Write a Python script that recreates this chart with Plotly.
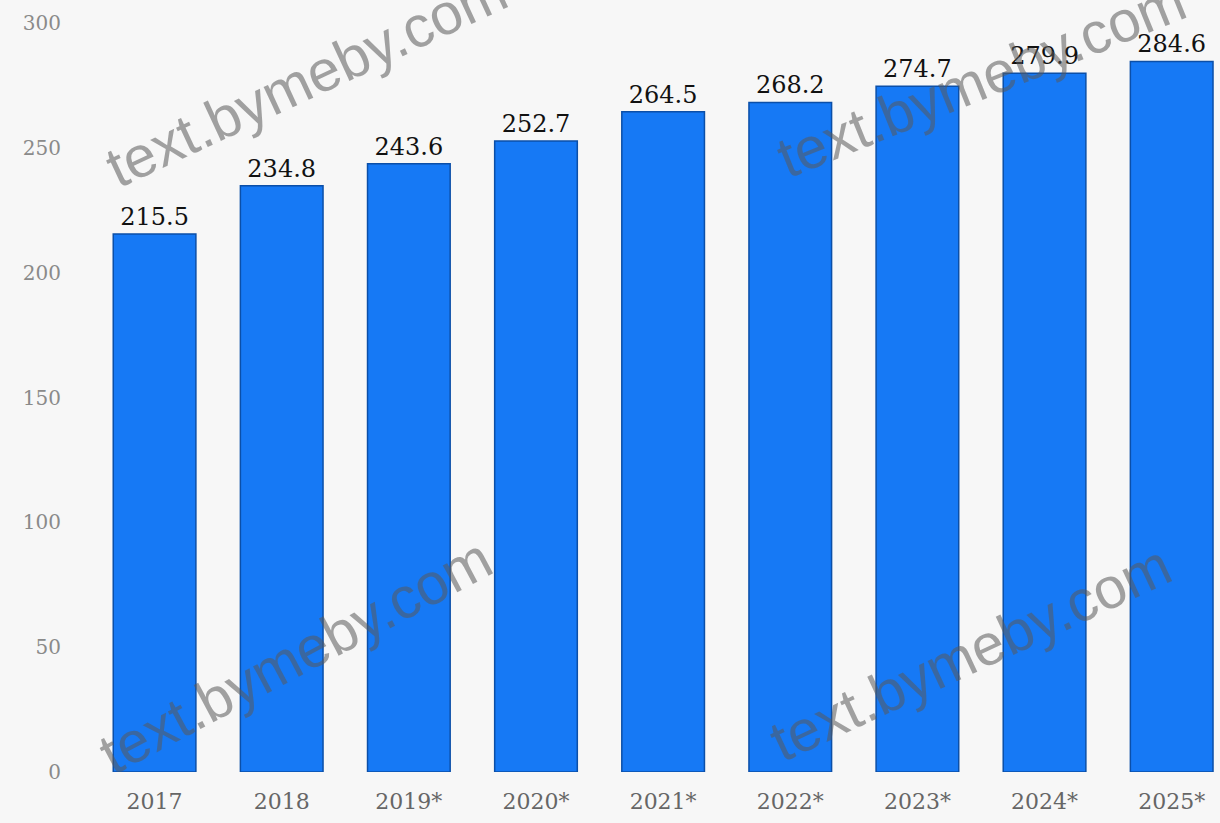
import plotly.graph_objects as go

years = ["2017", "2018", "2019*", "2020*", "2021*", "2022*", "2023*", "2024*", "2025*"]
values = [215.5, 234.8, 243.6, 252.7, 264.5, 268.2, 274.7, 279.9, 284.6]
y_ticks = [0, 50, 100, 150, 200, 250, 300]
watermark = "text.bymeby.com"

W, H = 1220, 823
L, R, T, B = 91, 0, 23, 51

fig = go.Figure()
fig.add_trace(go.Bar(
    x=years, y=values,
    marker=dict(color="#1679f5", line=dict(color="#0b4fa8", width=1.5)),
    text=[f"{v:.1f}" for v in values],
    textposition="outside",
    cliponaxis=False,
    textfont=dict(family="DejaVu Serif", size=24, color="#111111"),
    width=0.65,
))

# watermark centres given in pixel positions of the page
wm = [(306, 78, -25), (295, 655, -28), (981, 78, -22), (970, 652, -25)]
for px, py, ang in wm:
    fig.add_annotation(
        x=(px - L) / (W - L - R), y=1 - (py - T) / (H - T - B),
        xref="paper", yref="paper", xanchor="center", yanchor="middle",
        text=watermark, showarrow=False, textangle=ang,
        font=dict(family="Liberation Sans", size=58, color="rgba(90,90,90,0.55)"),
    )

fig.update_layout(
    width=W, height=H,
    margin=dict(l=L, r=R, t=T, b=B),
    paper_bgcolor="#f7f7f7", plot_bgcolor="#f7f7f7",
    showlegend=False,
    xaxis=dict(range=[-0.5, 8.38], showgrid=False, showline=False, ticks="",
               ticklabelstandoff=14,
               tickfont=dict(family="DejaVu Serif", size=22, color="#666666")),
    yaxis=dict(range=[0, 300], tickvals=y_ticks, showgrid=False, zeroline=False,
               showline=False, ticklabelstandoff=29,
               tickfont=dict(family="DejaVu Serif", size=20, color="#8a8a8a")),
)
fig.write_html("out.html", config={"displayModeBar": False},
               post_script="document.body.style.margin='0';document.body.style.background='#f7f7f7';")
